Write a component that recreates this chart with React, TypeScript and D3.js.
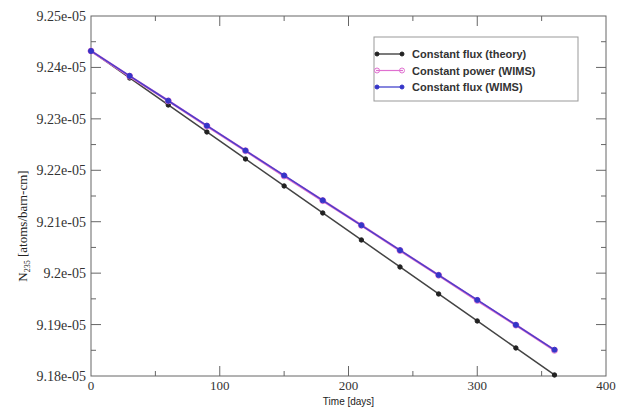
import React, { useEffect, useRef } from "react";
import * as d3 from "d3";

const days = [0, 30, 60, 90, 120, 150, 180, 210, 240, 270, 300, 330, 360];
const fluxTheory = [9.2432e-5, 9.23795e-5, 9.2327e-5, 9.22745e-5, 9.2222e-5, 9.21695e-5, 9.2117e-5, 9.20645e-5, 9.2012e-5, 9.19595e-5, 9.1907e-5, 9.18545e-5, 9.1802e-5];
const powerWims = [9.2432e-5, 9.2383e-5, 9.2335e-5, 9.2286e-5, 9.2238e-5, 9.2189e-5, 9.2141e-5, 9.2093e-5, 9.2044e-5, 9.1996e-5, 9.1947e-5, 9.1899e-5, 9.185e-5];
const fluxWims = [9.2432e-5, 9.23836e-5, 9.23352e-5, 9.22867e-5, 9.22383e-5, 9.21899e-5, 9.21415e-5, 9.20931e-5, 9.20446e-5, 9.19962e-5, 9.19478e-5, 9.18994e-5, 9.1851e-5];
const yTicks = [9.18e-5, 9.19e-5, 9.2e-5, 9.21e-5, 9.22e-5, 9.23e-5, 9.24e-5, 9.25e-5];
const yTickLabels = ["9.18e-05", "9.19e-05", "9.2e-05", "9.21e-05", "9.22e-05", "9.23e-05", "9.24e-05", "9.25e-05"];
const xTicks = [0, 100, 200, 300, 400];
const legendLabels = ["Constant flux (theory)", "Constant power (WIMS)", "Constant flux (WIMS)"];

const App = () => {
  const svgRef = useRef<SVGSVGElement>(null);

  useEffect(() => {
    const width = 626;
    const height = 408;
    const margin = { top: 16, left: 91, right: 20, bottom: 32 };

    const svg = d3.select(svgRef.current).attr("width", width).attr("height", height);
    svg.selectAll("*").remove();

    const x = d3.scaleLinear().domain([0, 400]).range([margin.left, width - margin.right]);
    const y = d3.scaleLinear().domain([9.18e-5, 9.25e-5]).range([height - margin.bottom, margin.top]);
    const axisColor = "#666";

    // frame
    svg.append("rect")
      .attr("x", x(0)).attr("y", y(9.25e-5))
      .attr("width", x(400) - x(0)).attr("height", y(9.18e-5) - y(9.25e-5))
      .attr("fill", "none").attr("stroke", axisColor).attr("stroke-width", 1);

    // inward ticks on all sides
    const xMinor = d3.range(50, 400, 100);
    const yMinor = d3.range(0, 7).map(i => yTicks[i] + 0.005e-5);
    const tk = svg.append("g").attr("stroke", axisColor).attr("stroke-width", 1);
    const drawX = (vals: number[], len: number) => {
      vals.forEach(v => {
        tk.append("line").attr("x1", x(v)).attr("x2", x(v)).attr("y1", y.range()[0]).attr("y2", y.range()[0] - len);
        tk.append("line").attr("x1", x(v)).attr("x2", x(v)).attr("y1", y.range()[1]).attr("y2", y.range()[1] + len);
      });
    };
    const drawY = (vals: number[], len: number) => {
      vals.forEach(v => {
        tk.append("line").attr("y1", y(v)).attr("y2", y(v)).attr("x1", x.range()[0]).attr("x2", x.range()[0] + len);
        tk.append("line").attr("y1", y(v)).attr("y2", y(v)).attr("x1", x.range()[1]).attr("x2", x.range()[1] - len);
      });
    };
    drawX(xTicks.slice(1, -1), 10);
    drawX(xMinor, 5);
    drawY(yTicks.slice(1, -1), 10);
    drawY(yMinor, 5);

    // tick labels
    svg.append("g").selectAll("text").data(yTicks).join("text")
      .attr("x", margin.left - 5).attr("y", d => y(d) + 5)
      .attr("text-anchor", "end")
      .attr("font-family", "Liberation Serif, serif").attr("font-size", 14).attr("fill", "#333")
      .text((d, i) => yTickLabels[i]);

    svg.append("g").selectAll("text").data(xTicks).join("text")
      .attr("x", d => x(d)).attr("y", y.range()[0] + 14)
      .attr("text-anchor", "middle")
      .attr("font-family", "Liberation Serif, serif").attr("font-size", 13).attr("fill", "#333")
      .text(d => String(d));

    // axis titles
    svg.append("text")
      .attr("x", (x(0) + x(400)) / 2).attr("y", 405)
      .attr("text-anchor", "middle")
      .attr("font-family", "Liberation Sans, sans-serif").attr("font-size", 10).attr("fill", "#222")
      .text("Time [days]");

    const yt = svg.append("text")
      .attr("transform", "translate(27,226) rotate(-90)")
      .attr("text-anchor", "middle")
      .attr("font-family", "Liberation Serif, serif").attr("font-size", 13).attr("fill", "#222");
    yt.append("tspan").text("N");
    yt.append("tspan").attr("font-size", 8).attr("dy", 3).text("235");
    yt.append("tspan").attr("dy", -3).text(" [atoms/barn-cm]");

    // series
    const series = [
      { values: fluxTheory, color: "#222", width: 1.5, open: false, r: 2.2 },
      { values: powerWims, color: "#e070d0", width: 2.4, open: true, r: 3 },
      { values: fluxWims, color: "#3535c8", width: 1.5, open: false, r: 2.5 },
    ];
    const line = d3.line<number>().x((d, i) => x(days[i])).y(d => y(d));

    series.forEach(s => {
      svg.append("path").datum(s.values)
        .attr("d", line)
        .attr("fill", "none").attr("stroke", s.color).attr("stroke-width", s.width)
        .attr("stroke-opacity", s.open ? 1 : 0.85);
      svg.append("g").selectAll("circle").data(s.values).join("circle")
        .attr("cx", (d, i) => x(days[i])).attr("cy", d => y(d)).attr("r", s.r)
        .attr("fill", s.open ? "white" : s.color).attr("fill-opacity", s.open ? 0 : 1)
        .attr("stroke", s.color).attr("stroke-width", 1);
    });

    // legend
    const lg = svg.append("g");
    lg.append("rect").attr("x", 374).attr("y", 37).attr("width", 204).attr("height", 64)
      .attr("fill", "white").attr("stroke", "#999").attr("stroke-width", 1);
    series.forEach((s, i) => {
      const ly = 54 + i * 16.5;
      lg.append("line").attr("x1", 376).attr("x2", 403).attr("y1", ly).attr("y2", ly)
        .attr("stroke", s.color).attr("stroke-width", 1.2);
      [377, 402].forEach(cx => {
        lg.append("circle").attr("cx", cx).attr("cy", ly).attr("r", s.open ? 2.5 : 2)
          .attr("fill", s.open ? "none" : s.color).attr("stroke", s.color).attr("stroke-width", 1);
      });
      lg.append("text").attr("x", 412).attr("y", ly + 4)
        .attr("font-family", "Liberation Sans, sans-serif").attr("font-size", 11).attr("font-weight", 600)
        .attr("fill", "#333")
        .text(legendLabels[i]);
    });
  }, []);

  return <svg ref={svgRef} style={{ position: "absolute", left: 0, top: 0, background: "white" }} />;
};

export default App;
